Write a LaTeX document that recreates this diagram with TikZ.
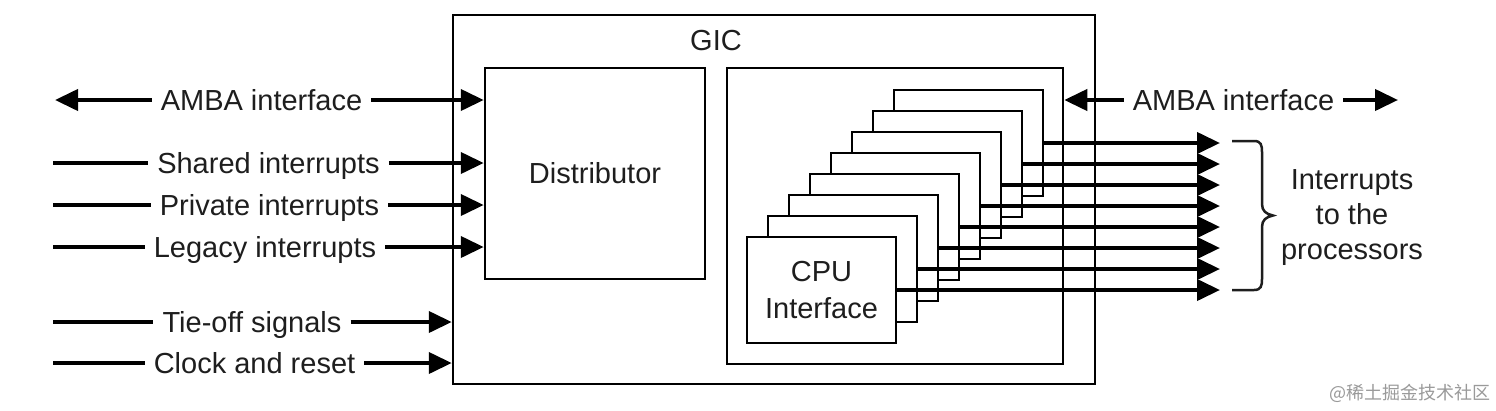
\documentclass[tikz,border=0pt]{standalone}
\usepackage{fontspec}
\setmainfont{Liberation Sans}
\newfontfamily\cjkfont{Noto Sans CJK SC}
\usetikzlibrary{arrows.meta}
\definecolor{txt}{HTML}{1E1E1E}
\definecolor{wmgray}{HTML}{9A9A9A}
\begin{document}
\begin{tikzpicture}[x=1pt,y=-1pt,
  box/.style={draw=black,line width=2.5pt,fill=white,inner sep=0pt,
    font=\fontsize{29}{35}\selectfont,text=txt},
  lbl/.style={font=\fontsize{29}{35}\selectfont,text=txt,inner xsep=9pt,
    inner ysep=0pt,text height=21pt,text depth=0pt},
  conn/.style={line width=4pt,-{Triangle[length=23pt,width=21pt]}},
  wire/.style={line width=4pt},
  cpubox/.style={box,minimum width=149pt,minimum height=106pt,align=center},
]
\useasboundingbox[fill=white] (0,0) rectangle (1496,410);

% main blocks
\node[box,minimum width=642pt,minimum height=369pt] (gic) at (774,199.5) {};
\node[lbl] (giclbl) at (716,40) {GIC};
\node[box,minimum width=220pt,minimum height=211pt] (dist) at (595,173.5) {Distributor};
\node[box,minimum width=336pt,minimum height=296pt] (cont) at (895,216) {};

% stacked CPU interfaces with their outputs
\foreach \i in {7,...,1}{
  \node[cpubox] (cpu\i) at ({821.5+21*\i},{290-21*\i}) {};
  \coordinate (o\i) at (1220,{290-21*\i});
  \draw[conn] (cpu\i.east) -- (o\i);
}
\node[cpubox,font=\fontsize{29}{37}\selectfont] (cpu0) at (821.5,290) {CPU\\Interface};
\coordinate (o0) at (1220,290);
\draw[conn] (cpu0.east) -- (o0);

% left side signals
\node[lbl] (amba1) at (261.5,100) {AMBA interface};
\coordinate (amba1L) at (55,100);
\draw[conn] (amba1.west) -- (amba1L);
\draw[conn] (amba1.east) -- (amba1.east -| dist.west);

\node[lbl] (shared) at (268.5,163) {Shared interrupts};
\coordinate (sharedL) at (53,163);
\draw[wire] (sharedL) -- (shared.west);
\draw[conn] (shared.east) -- (shared.east -| dist.west);

\node[lbl] (private) at (269.5,205) {Private interrupts};
\coordinate (privateL) at (53,205);
\draw[wire] (privateL) -- (private.west);
\draw[conn] (private.east) -- (private.east -| dist.west);

\node[lbl] (legacy) at (265,247) {Legacy interrupts};
\coordinate (legacyL) at (53,247);
\draw[wire] (legacyL) -- (legacy.west);
\draw[conn] (legacy.east) -- (legacy.east -| dist.west);

\node[lbl] (tie) at (252,322) {Tie-off signals};
\coordinate (tieL) at (53,322);
\draw[wire] (tieL) -- (tie.west);
\draw[conn] (tie.east) -- (tie.east -| gic.west);

\node[lbl] (clk) at (254.5,363) {Clock and reset};
\coordinate (clkL) at (53,363);
\draw[wire] (clkL) -- (clk.west);
\draw[conn] (clk.east) -- (clk.east -| gic.west);

% right side AMBA
\node[lbl] (amba2) at (1233.5,100) {AMBA interface};
\draw[conn] (amba2.west) -- (amba2.west -| cont.east);
\coordinate (amba2R) at (1398,100);
\draw[conn] (amba2.east) -- (amba2R);

% brace and label
\draw[line width=2.5pt,draw=txt]
  (1232,141) -- (1254,141) .. controls (1261,141) and (1262,145) .. (1262,152)
  -- (1262,204) .. controls (1262,211) and (1266,214) .. (1273,215.5)
  .. controls (1266,217) and (1262,220) .. (1262,227)
  -- (1262,279) .. controls (1262,286) and (1261,290) .. (1254,290) -- (1232,290);
\node[align=center,font=\fontsize{29}{35}\selectfont,text=txt] (irq) at (1352,218)
  {Interrupts\\to the\\processors};

% watermark
\node[font=\cjkfont\fontsize{18}{20}\selectfont,text=wmgray] (wm) at (1410,393) {@稀土掘金技术社区};
\end{tikzpicture}
\end{document}
